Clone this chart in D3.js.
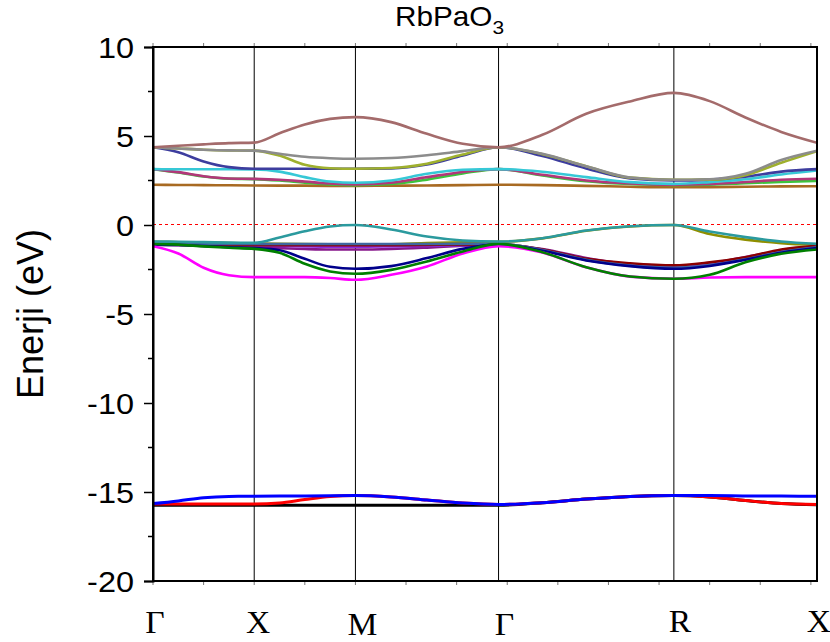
<!DOCTYPE html>
<html>
<head>
<meta charset="utf-8">
<script src="https://cdn.jsdelivr.net/npm/d3@7"></script>
<style>
  html, body { margin: 0; padding: 0; background: #fff; }
  svg { display: block; }
</style>
</head>
<body>
<svg id="chart" width="830" height="642"></svg>
<script>
// Band structure of RbPaO3 along Γ–X–M–Γ–R–X (energies in eV, Fermi level at 0)

// distance along the k-path (units of 2π/a), 4 steps per segment
const kPath = [0, 0.25, 0.5, 0.75, 1,
               1.25, 1.5, 1.75, 2,
               2.3536, 2.7071, 3.0607, 3.4142,
               3.8472, 4.2802, 4.7133, 5.1463,
               5.4999, 5.8534, 6.2070, 6.5605];
const kNodes = [0, 1, 2, 3.4142, 5.1463, 6.5605];
const kLabels = ["Γ", "X", "M", "Γ", "R", "X"];
const yTicks = [10, 5, 0, -5, -10, -15, -20];

// conduction bands
const cbTop     = [4.37, 4.45, 4.53, 4.60, 4.63, 5.15, 5.65, 5.96, 6.06, 5.78, 5.12, 4.56, 4.37, 5.07, 6.25, 6.94, 7.42, 6.96, 6.04, 5.23, 4.62];
const cbGrey    = [4.37, 4.30, 4.23, 4.19, 4.18, 4.00, 3.83, 3.75, 3.72, 3.76, 3.92, 4.15, 4.37, 4.00, 3.30, 2.67, 2.54, 2.57, 2.88, 3.65, 4.17];
const cbOlive   = [4.37, 4.30, 4.23, 4.19, 4.18, 3.90, 3.38, 3.19, 3.16, 3.20, 3.44, 3.96, 4.37, 3.98, 3.30, 2.66, 2.54, 2.55, 2.80, 3.50, 4.15];
const cbIndigo  = [4.37, 4.09, 3.57, 3.25, 3.16, 3.16, 3.16, 3.16, 3.16, 3.18, 3.40, 3.90, 4.37, 3.88, 3.18, 2.62, 2.50, 2.55, 2.72, 3.00, 3.14];
const cbCyan    = [3.14, 3.13, 3.13, 3.13, 3.12, 3.00, 2.69, 2.44, 2.37, 2.50, 2.88, 3.10, 3.14, 2.99, 2.69, 2.41, 2.31, 2.41, 2.57, 2.84, 3.06];
const cbGreen   = [3.14, 2.95, 2.72, 2.60, 2.58, 2.50, 2.38, 2.28, 2.24, 2.30, 2.55, 2.90, 3.14, 2.78, 2.46, 2.30, 2.25, 2.27, 2.35, 2.42, 2.48];
const cbRose    = [3.14, 2.97, 2.74, 2.61, 2.59, 2.54, 2.44, 2.33, 2.28, 2.38, 2.69, 2.98, 3.14, 2.82, 2.50, 2.33, 2.26, 2.30, 2.42, 2.54, 2.60];
const cbOchre   = [2.26, 2.25, 2.24, 2.23, 2.22, 2.21, 2.21, 2.20, 2.20, 2.21, 2.22, 2.24, 2.26, 2.24, 2.20, 2.15, 2.12, 2.13, 2.15, 2.17, 2.18];

// valence bands (O 2p)
const vbOlive   = [-0.95, -0.97, -1.00, -1.02, -1.04, -1.05, -1.07, -1.09, -1.10, -1.08, -1.02, -0.97, -0.95, -0.75, -0.32, -0.08, 0.00, -0.50, -0.82, -1.02, -1.12];
const vbSteel   = [-1.05, -1.06, -1.07, -1.07, -1.07, -1.07, -1.07, -1.07, -1.07, -1.07, -1.07, -1.06, -1.05, -1.40, -1.96, -2.28, -2.40, -2.25, -1.92, -1.52, -1.25];
const vbViolet  = [-1.10, -1.11, -1.12, -1.14, -1.15, -1.17, -1.20, -1.22, -1.22, -1.20, -1.17, -1.13, -1.10, -1.40, -1.95, -2.25, -2.35, -2.20, -1.90, -1.50, -1.22];
const vbNavy    = [-1.10, -1.12, -1.18, -1.25, -1.30, -1.42, -1.90, -2.35, -2.46, -2.31, -1.86, -1.34, -1.10, -1.45, -1.99, -2.31, -2.46, -2.30, -1.95, -1.56, -1.30];
const vbPurple  = [-1.10, -1.13, -1.17, -1.22, -1.25, -1.30, -1.35, -1.38, -1.38, -1.35, -1.27, -1.17, -1.10, -1.35, -1.85, -2.20, -2.30, -2.15, -1.80, -1.45, -1.20];
const vbMaroon  = [-1.08, -1.10, -1.12, -1.13, -1.13, -1.13, -1.13, -1.13, -1.13, -1.13, -1.12, -1.10, -1.08, -1.38, -1.90, -2.15, -2.27, -2.10, -1.81, -1.38, -1.17];
const vbMagenta = [-1.19, -1.60, -2.40, -2.82, -2.93, -2.93, -2.93, -2.98, -3.08, -2.80, -2.33, -1.60, -1.19, -1.55, -2.38, -2.90, -3.02, -2.95, -2.93, -2.93, -2.93];
const vbGreen   = [-1.06, -1.10, -1.20, -1.28, -1.34, -1.56, -2.18, -2.61, -2.74, -2.52, -2.05, -1.49, -1.06, -1.53, -2.37, -2.89, -3.02, -2.80, -2.09, -1.62, -1.38];
const vbTeal    = [-0.93, -0.94, -0.96, -0.99, -1.00, -0.70, -0.35, -0.08, 0.00, -0.25, -0.65, -0.87, -0.93, -0.74, -0.31, -0.07, 0.00, -0.37, -0.68, -0.93, -1.06];

// semicore bands (O 2s)
const scBlack   = [-15.75, -15.75, -15.75, -15.75, -15.75, -15.75, -15.75, -15.75, -15.75, -15.75, -15.75, -15.75, -15.75, -15.60, -15.40, -15.25, -15.20, -15.28, -15.48, -15.65, -15.72];
const scRed     = [-15.68, -15.68, -15.68, -15.68, -15.68, -15.62, -15.42, -15.25, -15.20, -15.28, -15.45, -15.62, -15.70, -15.60, -15.40, -15.25, -15.20, -15.28, -15.48, -15.65, -15.70];
const scBlue    = [-15.65, -15.50, -15.32, -15.25, -15.24, -15.23, -15.22, -15.21, -15.20, -15.28, -15.45, -15.62, -15.70, -15.60, -15.40, -15.25, -15.20, -15.20, -15.22, -15.23, -15.24];

// drawing order: later entries sit on top where bands overlap
const bands = [
  { e: cbOchre,   color: "#a86a22", w: 2.6 },
  { e: cbGreen,   color: "#3cc43c", w: 2.6 },
  { e: cbRose,    color: "#b2377a", w: 2.6 },
  { e: cbCyan,    color: "#36c8d6", w: 2.6 },
  { e: cbIndigo,  color: "#3d3d9e", w: 2.6 },
  { e: cbOlive,   color: "#9fb02e", w: 2.6 },
  { e: cbGrey,    color: "#8c8c8c", w: 2.6 },
  { e: cbTop,     color: "#a46b6b", w: 2.6 },
  { e: vbOlive,   color: "#8f8f00", w: 2.6 },
  { e: vbPurple,  color: "#86168a", w: 2.6 },
  { e: vbViolet,  color: "#8a2be2", w: 2.6 },
  { e: vbMaroon,  color: "#8b0000", w: 2.6 },
  { e: vbSteel,   color: "#3f67a0", w: 2.6 },
  { e: vbNavy,    color: "#00008b", w: 2.6 },
  { e: vbMagenta, color: "#ff00ff", w: 2.6 },
  { e: vbGreen,   color: "#008000", w: 2.6 },
  { e: vbTeal,    color: "#2b9a9e", w: 2.6 },
  { e: scBlack,   color: "#000000", w: 3 },
  { e: scRed,     color: "#ff0000", w: 3 },
  { e: scBlue,    color: "#0000ff", w: 3 }
];

const margin = { left: 153, right: 13, top: 47, bottom: 61 };
const W = 830, H = 642;
const svg = d3.select("#chart");
const x = d3.scaleLinear().domain([0, kNodes[kNodes.length - 1]]).range([margin.left, W - margin.right]);
const y = d3.scaleLinear().domain([-20, 10]).range([H - margin.bottom, margin.top]);
const font = "'Liberation Sans', Arial, Helvetica, sans-serif";

svg.append("defs").append("clipPath").attr("id", "plot")
  .append("rect").attr("x", x.range()[0]).attr("y", y.range()[1])
  .attr("width", x.range()[1] - x.range()[0]).attr("height", y.range()[0] - y.range()[1]);

// high-symmetry point separators
svg.append("g").selectAll("line").data(kNodes.slice(1, -1)).join("line")
  .attr("x1", d => x(d)).attr("x2", d => x(d))
  .attr("y1", y(10)).attr("y2", y(-20))
  .attr("stroke", "#000").attr("stroke-width", 1);

// Fermi level
svg.append("line")
  .attr("x1", x(0)).attr("x2", x(kNodes[kNodes.length - 1]))
  .attr("y1", y(0) - 0.5).attr("y2", y(0) - 0.5)
  .attr("stroke", "#ff0000").attr("stroke-width", 1.2).attr("stroke-dasharray", "3,3");

// bands
const line = d3.line().x((d, i) => x(kPath[i])).y(d => y(d)).curve(d3.curveMonotoneX);
svg.append("g").attr("clip-path", "url(#plot)").selectAll("path").data(bands).join("path")
  .attr("d", b => line(b.e))
  .attr("fill", "none").attr("stroke", b => b.color).attr("stroke-width", b => b.w)
  .attr("stroke-linejoin", "round").attr("stroke-linecap", "round");

// small ticks along top and bottom frame
const kTicks = d3.range(0, 6.51, 0.5);
const tickG = svg.append("g").attr("stroke", "#777").attr("stroke-width", 1);
tickG.selectAll("line.b").data(kTicks).join("line").attr("class", "b")
  .attr("x1", d => x(d)).attr("x2", d => x(d)).attr("y1", y(-20)).attr("y2", y(-20) + 4);
tickG.selectAll("line.t").data(kTicks).join("line").attr("class", "t")
  .attr("x1", d => x(d)).attr("x2", d => x(d)).attr("y1", y(10)).attr("y2", y(10) - 4);

// frame
svg.append("rect")
  .attr("x", x.range()[0]).attr("y", y.range()[1])
  .attr("width", x.range()[1] - x.range()[0]).attr("height", y.range()[0] - y.range()[1])
  .attr("fill", "none").attr("stroke", "#000").attr("stroke-width", 2);

// energy axis
const yAxis = svg.append("g").attr("transform", `translate(${x.range()[0]},0)`)
  .call(d3.axisLeft(y).tickValues(yTicks).tickSize(9).tickPadding(10).tickFormat(d => String(d)));
yAxis.select(".domain").attr("stroke-width", 2);
yAxis.selectAll(".tick line").attr("stroke-width", 1.5);
yAxis.selectAll(".tick text")
  .attr("font-family", font).attr("font-size", 29).attr("fill", "#000")
  .attr("text-anchor", "end").attr("dy", "0.35em")
  .each(function () {
    const t = d3.select(this);
    const tx = +t.attr("x");
    t.attr("x", null).attr("transform", `translate(${tx},0) scale(1.12,1)`);
  });
// minor energy ticks
svg.append("g").selectAll("line").data(d3.range(-17.5, 10, 5)).join("line")
  .attr("x1", x.range()[0] - 5).attr("x2", x.range()[0])
  .attr("y1", d => y(d)).attr("y2", d => y(d))
  .attr("stroke", "#000").attr("stroke-width", 1.5);

// k-point labels
const labelDx = [2, 4, 7, 6, 6, 2];
const labelY = [633, 633, 635, 635, 632, 632];
svg.append("g").selectAll("text").data(kLabels).join("text")
  .attr("transform", (d, i) => `translate(${x(kNodes[i]) + labelDx[i]},${labelY[i]}) scale(1.05,1)`)
  .attr("text-anchor", "middle")
  .attr("font-family", "'Liberation Serif', 'Times New Roman', serif")
  .attr("font-size", 32).attr("fill", "#000")
  .text(d => d);

// axis title
svg.append("text")
  .attr("transform", `translate(43,${(y(10) + y(-20)) / 2}) rotate(-90)`)
  .attr("text-anchor", "middle")
  .attr("font-family", font).attr("font-size", 36).attr("fill", "#000")
  .text("Enerji (eV)");

// chart title with subscript
const title = svg.append("text")
  .attr("transform", "translate(395,26) scale(1.1,1)")
  .attr("font-family", font).attr("font-size", 27).attr("fill", "#000");
title.append("tspan").text("RbPaO");
title.append("tspan").attr("font-size", 19).attr("dy", 8).text("3");
</script>
</body>
</html>
